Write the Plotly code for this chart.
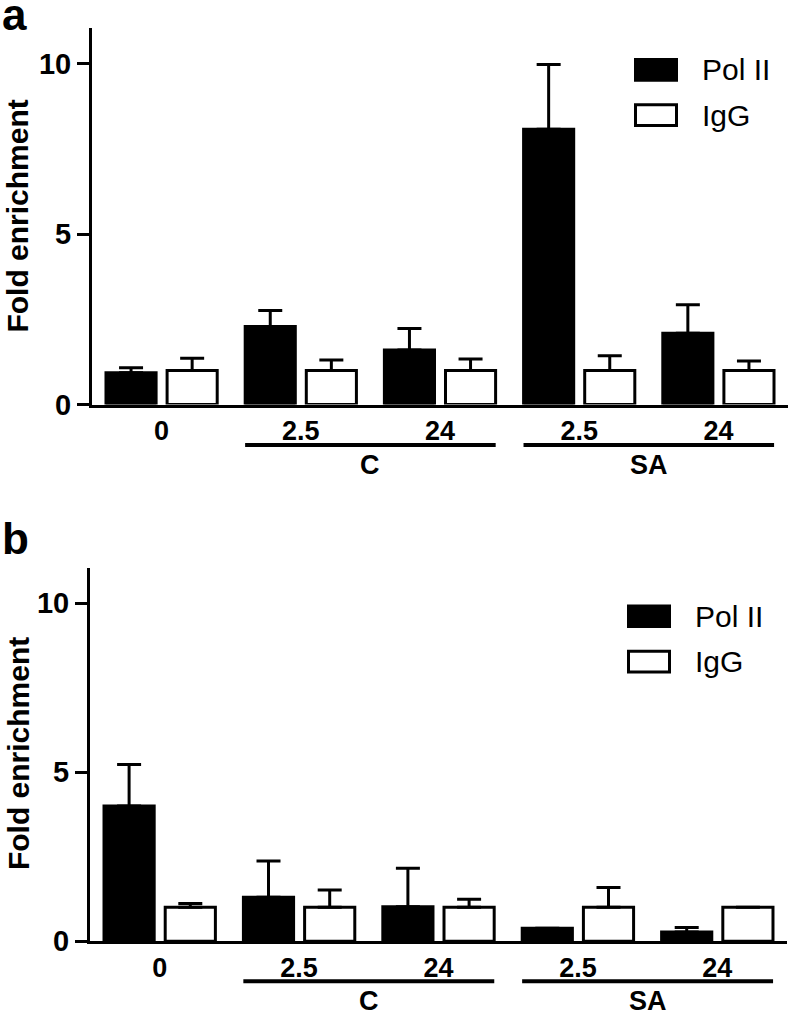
import plotly.graph_objects as go

# ---------------- data ----------------
tick_labels = ["0", "2.5", "24", "2.5", "24"]
series_names = ["Pol II", "IgG"]
treat_names = ["C", "SA"]
treat_members = [[1, 2], [3, 4]]
y_ticks = [0, 5, 10]

a_pol = [0.93, 2.29, 1.60, 8.07, 2.09]
a_pol_err = [0.15, 0.47, 0.63, 1.90, 0.84]
a_igg = [1.0, 1.0, 1.0, 1.0, 1.0]
a_igg_err = [0.36, 0.31, 0.34, 0.43, 0.28]

b_pol = [4.0, 1.30, 1.02, 0.38, 0.27]
b_pol_err = [1.23, 1.07, 1.14, 0.0, 0.13]
b_igg = [1.0, 1.0, 1.0, 1.0, 1.0]
b_igg_err = [0.11, 0.51, 0.24, 0.59, 0.0]

panel_letters = ["a", "b"]
y_title = "Fold enrichment"

# ---------------- style ----------------
W, H = 792, 1029
FONT = "Liberation Sans, Arial, Helvetica, sans-serif"
LW = 3


def py(p):
    """pixel row -> paper y"""
    return 1 - p / H


def px(p):
    """pixel column -> paper x"""
    return p / W


panels = [
    dict(pol=a_pol, pol_err=a_pol_err, igg=a_igg, igg_err=a_igg_err,
         xdom=[px(92), px(788)], ydom=[py(411), py(28)],
         letter_y=py(-12), title_y=py(220), legend_top=59,
         legend_x=634, line_y=452, treat_y=472),
    dict(pol=b_pol, pol_err=b_pol_err, igg=b_igg, igg_err=b_igg_err,
         xdom=[px(90), px(787)], ydom=[py(956), py(576.7)],
         letter_y=py(520), title_y=py(766), legend_top=614,
         legend_x=627, line_y=996.7, treat_y=1016.5),
]

fig = go.Figure()
shapes = []
annotations = []
x_idx = list(range(len(tick_labels)))

for i, p in enumerate(panels):
    xa = "x" if i == 0 else "x2"
    ya = "y" if i == 0 else "y2"
    fig.add_trace(go.Bar(
        x=x_idx, y=p["pol"], name=series_names[0], xaxis=xa, yaxis=ya,
        marker=dict(color="black", line=dict(color="black", width=LW)),
        error_y=dict(type="data", symmetric=False, array=p["pol_err"],
                     arrayminus=[0] * 5, color="black", thickness=LW, width=12),
        showlegend=False,
    ))
    fig.add_trace(go.Bar(
        x=x_idx, y=p["igg"], name=series_names[1], xaxis=xa, yaxis=ya,
        marker=dict(color="white", line=dict(color="black", width=LW)),
        error_y=dict(type="data", symmetric=False, array=p["igg_err"],
                     arrayminus=[0] * 5, color="black", thickness=LW, width=12),
        showlegend=False,
    ))

    # treatment underline + label
    for name, mem in zip(treat_names, treat_members):
        shapes.append(dict(type="line", xref=xa, yref="paper",
                           x0=mem[0] - 0.4, x1=mem[-1] + 0.4,
                           y0=py(p["line_y"]), y1=py(p["line_y"]),
                           line=dict(color="black", width=4)))
        annotations.append(dict(xref=xa, yref="paper",
                                x=(mem[0] + mem[-1]) / 2, y=py(p["treat_y"]),
                                text=f"<b>{name}</b>", showarrow=False,
                                yanchor="middle", xanchor="center",
                                font=dict(family=FONT, size=27, color="black")))

    # legend (drawn manually, large swatches)
    lx = p["legend_x"]
    top = p["legend_top"]
    for k, (nm, fill) in enumerate(zip(series_names, ["black", "white"])):
        y0 = top + k * 46
        shapes.append(dict(type="rect", xref="paper", yref="paper",
                           x0=px(lx + 1.5), x1=px(lx + 42.5),
                           y0=py(y0 + 22.5), y1=py(y0 + 1.5),
                           fillcolor=fill, line=dict(color="black", width=LW)))
        annotations.append(dict(xref="paper", yref="paper",
                                x=px(lx + 66), y=py(y0 + 12),
                                text=nm, showarrow=False,
                                xanchor="left", yanchor="middle",
                                font=dict(family=FONT, size=30, color="black")))

    # panel letter
    annotations.append(dict(xref="paper", yref="paper", x=0, y=p["letter_y"],
                            text=f"<b>{panel_letters[i]}</b>", showarrow=False,
                            xanchor="left", yanchor="top",
                            font=dict(family=FONT, size=44, color="black")))
    # y title
    annotations.append(dict(xref="paper", yref="paper", x=px(18), y=p["title_y"],
                            text=f"<b>{y_title}</b>", showarrow=False,
                            textangle=-90, xanchor="center", yanchor="middle",
                            font=dict(family=FONT, size=30, color="black")))

xaxis_common = dict(
    range=[-0.5, 4.5], tickmode="array", tickvals=x_idx, ticktext=tick_labels,
    showline=True, linecolor="black", linewidth=LW, showgrid=False,
    zeroline=False, ticks="",
    tickfont=dict(family=FONT, size=27, color="black", weight="bold"),
    fixedrange=True,
)
yaxis_common = dict(
    range=[0, 11.05], tickmode="array", tickvals=y_ticks,
    ticktext=[str(v) for v in y_ticks],
    showline=True, linecolor="black", linewidth=LW, showgrid=False,
    zeroline=False, ticks="outside", ticklen=12, tickwidth=LW,
    tickcolor="black",
    tickfont=dict(family=FONT, size=29, color="black", weight="bold"),
    fixedrange=True,
)

fig.update_layout(
    width=W, height=H,
    margin=dict(l=0, r=0, t=0, b=0),
    paper_bgcolor="white", plot_bgcolor="white",
    barmode="group", bargap=0.122, bargroupgap=0.18,
    xaxis=dict(domain=panels[0]["xdom"], anchor="y", **xaxis_common),
    yaxis=dict(domain=panels[0]["ydom"], anchor="x", **yaxis_common),
    xaxis2=dict(domain=panels[1]["xdom"], anchor="y2", **xaxis_common),
    yaxis2=dict(domain=panels[1]["ydom"], anchor="x2", **yaxis_common),
    shapes=shapes, annotations=annotations,
    showlegend=False,
)

fig.write_html(
    "out.html",
    config={"displayModeBar": False, "staticPlot": True},
    post_script=(
        "document.documentElement.style.margin='0';"
        "document.body.style.margin='0';"
        "document.body.style.overflow='hidden';"
        "var d=document.getElementById('{plot_id}');"
        "d.style.position='fixed';d.style.left='0px';d.style.top='0px';"
    ),
)
